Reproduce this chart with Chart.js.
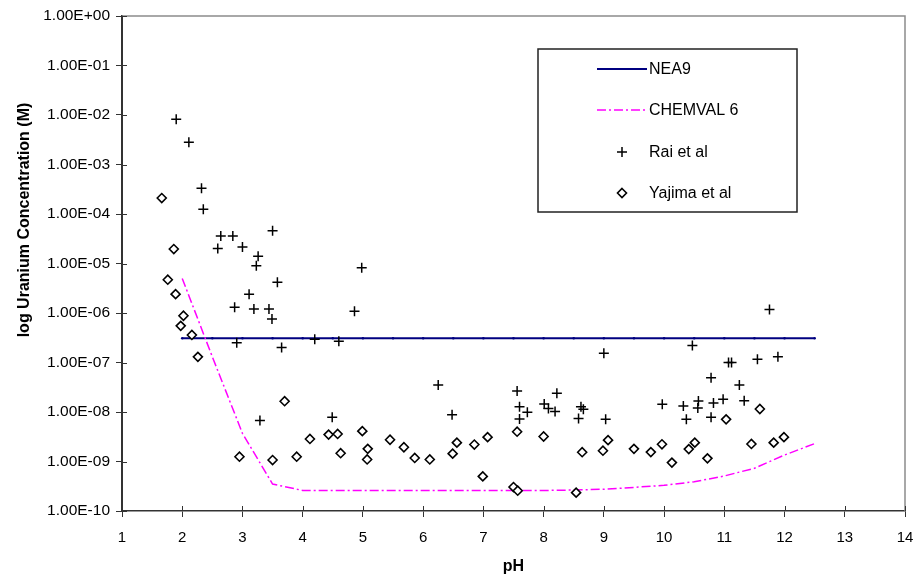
<!DOCTYPE html>
<html>
<head>
<meta charset="utf-8">
<script src="https://cdn.jsdelivr.net/npm/chart.js@4.4.1/dist/chart.umd.min.js"></script>
<style>
  body { margin: 0; background: #fff; }
  canvas { display: block; }
</style>
</head>
<body>
<canvas id="uranium" width="917" height="578"></canvas>
<script>
// NEA9 solubility limit (M) vs pH
const neaPH = [2, 2.5, 3, 3.5, 4, 4.5, 5, 5.5, 6, 6.5, 7, 7.5, 8, 8.5, 9, 9.5, 10, 10.5, 11, 11.5, 12, 12.5];
const neaU = [3.1e-7, 3.1e-7, 3.1e-7, 3.1e-7, 3.1e-7, 3.1e-7, 3.1e-7, 3.1e-7, 3.1e-7, 3.1e-7, 3.1e-7,
              3.1e-7, 3.1e-7, 3.1e-7, 3.1e-7, 3.1e-7, 3.1e-7, 3.1e-7, 3.1e-7, 3.1e-7, 3.1e-7, 3.1e-7];

// CHEMVAL 6 solubility curve
const chemvalPH = [2, 2.5, 3, 3.5, 4, 4.5, 5, 5.5, 6, 6.5, 7, 7.5, 8, 8.5, 9, 9.5, 10, 10.5, 11, 11.5, 12, 12.5];
const chemvalU = [5.0e-6, 1.3e-7, 3.7e-9, 3.5e-10, 2.6e-10, 2.6e-10, 2.6e-10, 2.6e-10, 2.6e-10, 2.6e-10, 2.6e-10,
                  2.6e-10, 2.6e-10, 2.65e-10, 2.75e-10, 3.0e-10, 3.3e-10, 3.9e-10, 5.1e-10, 7.3e-10, 1.35e-9, 2.3e-9];

// Rai et al measurements
const raiPH = [1.90, 2.11, 2.32, 2.35, 2.64, 2.84, 3.50, 2.59, 3.00, 3.26, 3.23, 4.98, 3.58, 3.11, 2.87, 3.19,
               3.44, 3.49, 4.86, 2.905, 3.65, 4.20, 4.60, 3.29, 4.49, 6.25, 6.48, 7.56, 7.60, 7.73, 7.60, 8.01,
               8.08, 8.19, 8.22, 8.62, 8.66, 8.58, 9.00, 9.03, 11.75, 10.47, 11.07, 11.12, 11.55, 11.89, 10.78,
               11.25, 9.97, 10.32, 10.57, 10.56, 10.82, 10.98, 11.33, 10.37, 10.78];
const raiU = [8.2e-3, 2.8e-3, 3.3e-4, 1.25e-4, 3.6e-5, 3.6e-5, 4.6e-5, 2.0e-5, 2.15e-5, 1.4e-5, 9.0e-6, 8.2e-6,
              4.2e-6, 2.4e-6, 1.3e-6, 1.2e-6, 1.2e-6, 7.6e-7, 1.08e-6, 2.5e-7, 2.0e-7, 2.95e-7, 2.7e-7, 6.7e-9,
              7.8e-9, 3.5e-8, 8.8e-9, 2.65e-8, 1.28e-8, 9.9e-9, 7.2e-9, 1.45e-8, 1.18e-8, 1.02e-8, 2.4e-8,
              1.28e-8, 1.13e-8, 7.4e-9, 1.53e-7, 7.1e-9, 1.17e-6, 2.2e-7, 1.0e-7, 1.0e-7, 1.16e-7, 1.31e-7,
              4.9e-8, 3.5e-8, 1.44e-8, 1.32e-8, 1.66e-8, 1.2e-8, 1.52e-8, 1.81e-8, 1.69e-8, 7.1e-9, 7.8e-9];

// Yajima et al measurements
const yajimaPH = [1.66, 1.86, 1.76, 1.89, 2.02, 1.975, 2.16, 2.26, 3.70, 2.95, 3.50, 3.90, 4.12, 4.43, 4.58,
                  4.63, 4.99, 5.08, 5.07, 5.45, 5.68, 5.86, 6.11, 6.49, 6.56, 6.85, 7.07, 6.99, 7.56, 7.50,
                  7.57, 8.00, 8.54, 8.64, 8.985, 9.07, 9.50, 9.78, 9.965, 10.13, 10.41, 10.51, 10.72, 11.03,
                  11.59, 11.45, 11.82, 11.99];
const yajimaU = [2.1e-4, 1.96e-5, 4.7e-6, 2.4e-6, 8.8e-7, 5.5e-7, 3.6e-7, 1.3e-7, 1.65e-8, 1.25e-9, 1.07e-9,
                 1.25e-9, 2.85e-9, 3.5e-9, 3.6e-9, 1.47e-9, 4.1e-9, 1.8e-9, 1.1e-9, 2.75e-9, 1.94e-9, 1.18e-9,
                 1.1e-9, 1.44e-9, 2.4e-9, 2.2e-9, 3.1e-9, 5.0e-10, 4.0e-9, 3.05e-10, 2.57e-10, 3.2e-9, 2.35e-10,
                 1.54e-9, 1.65e-9, 2.7e-9, 1.8e-9, 1.55e-9, 2.23e-9, 9.5e-10, 1.78e-9, 2.4e-9, 1.16e-9, 7.1e-9,
                 1.15e-8, 2.26e-9, 2.4e-9, 3.1e-9];

// axis ticks
const yTickValues = [1, 1e-1, 1e-2, 1e-3, 1e-4, 1e-5, 1e-6, 1e-7, 1e-8, 1e-9, 1e-10];
const xMin = 1, xMax = 14;

const FONT = '"Liberation Sans", Arial, sans-serif';

const pts = (xs, ys) => xs.map((x, i) => ({ x: x, y: ys[i] }));

// 1.00E-05 style labels
function sci(v) {
  const e = Math.round(Math.log10(v));
  const m = (v / Math.pow(10, e)).toFixed(2);
  return m + 'E' + (e < 0 ? '-' : '+') + String(Math.abs(e)).padStart(2, '0');
}

function drawCross(ctx, x, y, r) {
  ctx.beginPath();
  ctx.moveTo(x - r, y); ctx.lineTo(x + r, y);
  ctx.moveTo(x, y - r); ctx.lineTo(x, y + r);
  ctx.stroke();
}

function drawDiamond(ctx, x, y, r) {
  ctx.beginPath();
  ctx.moveTo(x, y - r); ctx.lineTo(x + r, y); ctx.lineTo(x, y + r); ctx.lineTo(x - r, y);
  ctx.closePath();
  ctx.fill();
  ctx.stroke();
}

// plot frame, crossing ticks, axis titles and the boxed legend
const decorations = {
  id: 'decorations',
  afterDraw(chart) {
    const { ctx, chartArea: a, scales: { x, y } } = chart;
    ctx.save();

    ctx.strokeStyle = '#8c8c8c';
    ctx.lineWidth = 1.5;
    ctx.beginPath();
    ctx.moveTo(a.left, a.top);
    ctx.lineTo(a.right, a.top);
    ctx.lineTo(a.right, a.bottom);
    ctx.stroke();

    ctx.strokeStyle = '#333';
    ctx.lineWidth = 1;
    ctx.beginPath();
    x.ticks.forEach(t => {
      const px = Math.round(x.getPixelForValue(t.value)) + 0.5;
      ctx.moveTo(px, a.bottom);
      ctx.lineTo(px, a.bottom - 5);
    });
    y.ticks.forEach(t => {
      const py = Math.round(y.getPixelForValue(t.value)) + 0.5;
      ctx.moveTo(a.left, py);
      ctx.lineTo(a.left + 5, py);
    });
    ctx.stroke();

    // axis titles
    ctx.fillStyle = '#000';
    ctx.font = 'bold 16px ' + FONT;
    ctx.textAlign = 'center';
    ctx.textBaseline = 'middle';
    ctx.fillText('pH', (a.left + a.right) / 2, 567);
    ctx.save();
    ctx.translate(25, 220);
    ctx.rotate(-Math.PI / 2);
    ctx.fillText('log Uranium Concentration (M)', 0, 0);
    ctx.restore();

    // legend
    const bx = 538, by = 49, bw = 259, bh = 163;
    ctx.fillStyle = '#fff';
    ctx.fillRect(bx, by, bw, bh);
    ctx.strokeStyle = '#222';
    ctx.lineWidth = 1.5;
    ctx.strokeRect(bx, by, bw, bh);

    const ds = chart.data.datasets;
    const rows = [69, 110, 152, 193];
    ctx.font = '16px ' + FONT;
    ctx.textAlign = 'left';
    ds.forEach((d, i) => {
      const ry = rows[i];
      ctx.save();
      if (d.showLine) {
        ctx.strokeStyle = d.borderColor;
        ctx.lineWidth = d.borderWidth;
        ctx.setLineDash(d.borderDash || []);
        ctx.beginPath();
        ctx.moveTo(597, ry);
        ctx.lineTo(647, ry);
        ctx.stroke();
      } else if (d.pointStyle === 'cross') {
        ctx.strokeStyle = d.borderColor;
        ctx.lineWidth = d.borderWidth;
        drawCross(ctx, 622, ry, d.pointRadius);
      } else {
        ctx.strokeStyle = d.borderColor;
        ctx.fillStyle = d.backgroundColor;
        ctx.lineWidth = d.borderWidth;
        drawDiamond(ctx, 622, ry, d.pointRadius);
      }
      ctx.restore();
      ctx.fillStyle = '#000';
      ctx.fillText(d.label, 649, ry + 1);
    });

    ctx.restore();
  }
};

new Chart(document.getElementById('uranium'), {
  type: 'scatter',
  data: {
    datasets: [
      {
        label: 'NEA9',
        data: pts(neaPH, neaU),
        showLine: true,
        borderColor: '#000080',
        backgroundColor: '#000080',
        borderWidth: 2,
        pointRadius: 1.3,
        pointBorderWidth: 0,
        order: 4
      },
      {
        label: 'CHEMVAL 6',
        data: pts(chemvalPH, chemvalU),
        showLine: true,
        borderColor: '#ff00ff',
        backgroundColor: '#ff00ff',
        borderWidth: 1.5,
        borderDash: [9, 3, 2, 3],
        pointRadius: 0,
        order: 3
      },
      {
        label: 'Rai et al',
        data: pts(raiPH, raiU),
        showLine: false,
        pointStyle: 'cross',
        pointRadius: 5,
        borderColor: '#000',
        backgroundColor: '#000',
        borderWidth: 1.5,
        order: 2
      },
      {
        label: 'Yajima et al',
        data: pts(yajimaPH, yajimaU),
        showLine: false,
        pointStyle: 'rectRot',
        pointRadius: 4.5,
        borderColor: '#000',
        backgroundColor: '#fff',
        borderWidth: 1.6,
        order: 1
      }
    ]
  },
  options: {
    responsive: false,
    animation: false,
    events: [],
    layout: { padding: { top: 16, right: 12, left: 0, bottom: 0 } },
    plugins: {
      legend: { display: false },
      tooltip: { enabled: false }
    },
    scales: {
      x: {
        type: 'linear',
        min: xMin,
        max: xMax,
        afterFit: s => { s.height = 67; s.paddingLeft = 0; s.paddingRight = 0; },
        ticks: { stepSize: 1, color: '#000', padding: 12, font: { family: FONT, size: 15 } },
        grid: { drawOnChartArea: false, drawTicks: true, tickLength: 6, color: '#333', lineWidth: 1 },
        border: { color: '#333', width: 1.5 }
      },
      y: {
        type: 'logarithmic',
        min: 1e-10,
        max: 1,
        afterFit: s => { s.width = 122; s.paddingTop = 0; s.paddingBottom = 0; },
        afterBuildTicks: s => { s.ticks = yTickValues.map(v => ({ value: v, major: true })); },
        ticks: {
          color: '#000',
          padding: 6,
          autoSkip: false,
          font: { family: FONT, size: 15.5 },
          callback: v => sci(v)
        },
        grid: { drawOnChartArea: false, drawTicks: true, tickLength: 6, color: '#333', lineWidth: 1 },
        border: { color: '#333', width: 2 }
      }
    }
  },
  plugins: [decorations]
});
</script>
</body>
</html>
